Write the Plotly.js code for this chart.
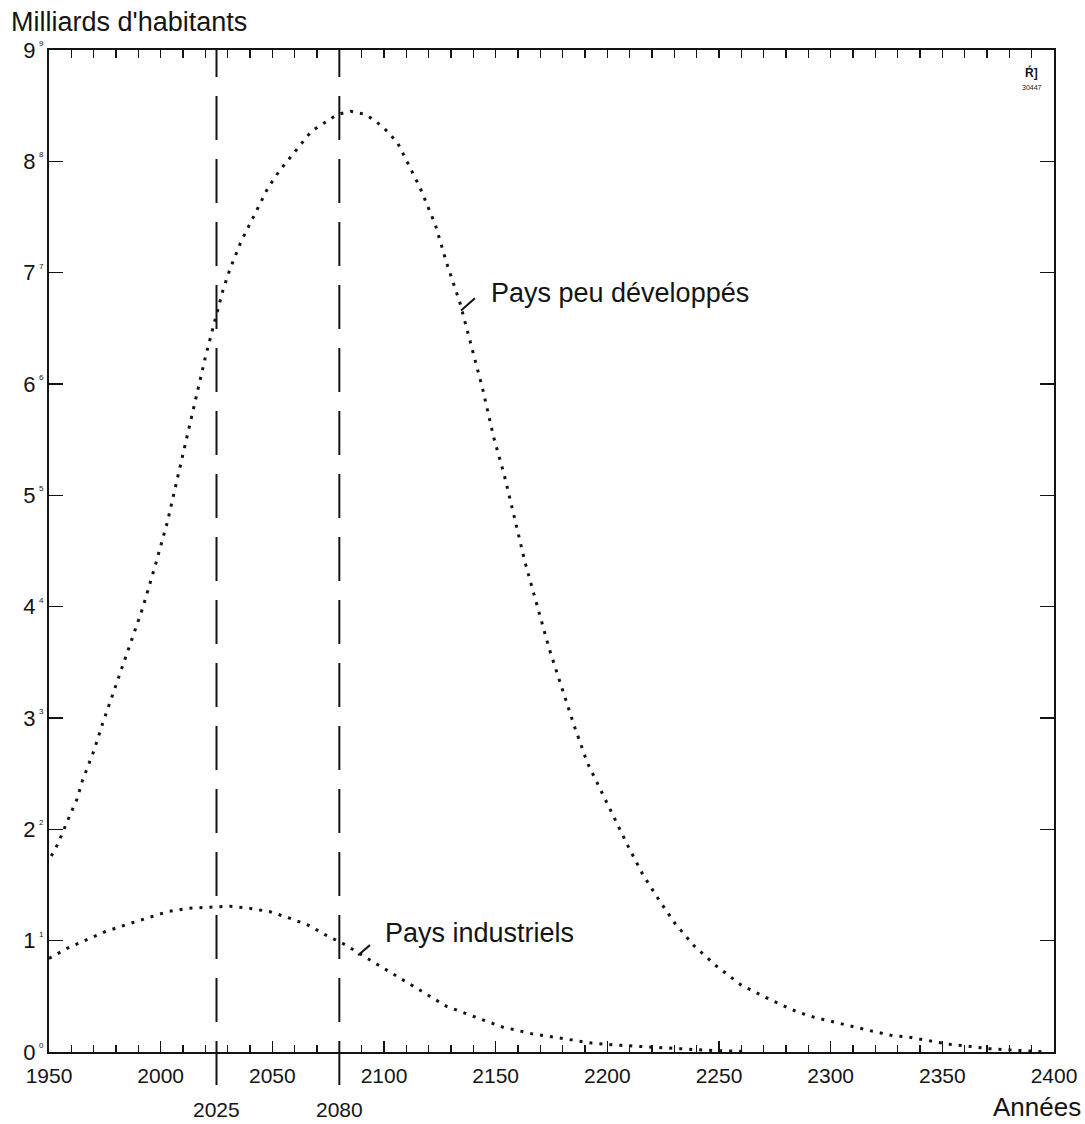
<!DOCTYPE html>
<html>
<head>
<meta charset="utf-8">
<script src="https://cdn.plot.ly/plotly-3.0.1.min.js"></script>
<style>html,body{margin:0;padding:0;background:#fff;}#chart{width:1085px;height:1124px;}</style>
</head>
<body>
<div id="chart"></div>
<script>
// ---- Data ----
const yearsPeuDev = [1951, 1954, 1959, 1962.5, 1965, 1970, 1974, 1978.5, 1983, 1987.5, 1992, 1998, 2003, 2007, 2012, 2016, 2020, 2023.5, 2028, 2031, 2036, 2042, 2048, 2053, 2059, 2067.5, 2079, 2085, 2092, 2099.5, 2106, 2116, 2123, 2128, 2134, 2139.5, 2144, 2149, 2154, 2159, 2163, 2168, 2174, 2179.5, 2185, 2191, 2197, 2203.5, 2209.5, 2216, 2223, 2230.5, 2239, 2249, 2260, 2273, 2285, 2293, 2301, 2310, 2318, 2327, 2336, 2344.5, 2352.5, 2362.5, 2370.5, 2379, 2388, 2397];
const valuesPeuDev = [1.76, 1.87, 2.11, 2.27, 2.44, 2.70, 2.95, 3.21, 3.46, 3.72, 3.99, 4.40, 4.76, 5.11, 5.54, 5.88, 6.24, 6.51, 6.85, 7.03, 7.28, 7.52, 7.76, 7.91, 8.06, 8.27, 8.42, 8.45, 8.42, 8.31, 8.17, 7.77, 7.43, 7.09, 6.73, 6.31, 5.97, 5.53, 5.17, 4.75, 4.41, 4.05, 3.62, 3.28, 2.94, 2.60, 2.35, 2.09, 1.84, 1.59, 1.37, 1.15, 0.95, 0.77, 0.60, 0.47, 0.36, 0.31, 0.27, 0.23, 0.19, 0.15, 0.13, 0.10, 0.07, 0.05, 0.03, 0.02, 0.01, 0.00];

const yearsIndus = [1950, 1958, 1967, 1975, 1984, 1993, 2003, 2012, 2021, 2031, 2040, 2049, 2058, 2066, 2074, 2082, 2091, 2100, 2108, 2116, 2128, 2140, 2153, 2166, 2180, 2193, 2206, 2225, 2245, 2262];
const valuesIndus = [0.84, 0.93, 1.01, 1.08, 1.14, 1.20, 1.26, 1.29, 1.30, 1.31, 1.29, 1.26, 1.20, 1.14, 1.05, 0.97, 0.86, 0.75, 0.65, 0.55, 0.41, 0.32, 0.225, 0.165, 0.12, 0.08, 0.06, 0.035, 0.015, 0.005];

const seriesNames = ["Pays peu développés", "Pays industriels"];
const markerYears = [2025, 2080];
const markerLabels = ["2025", "2080"];
const xTickVals = [1950, 2000, 2050, 2100, 2150, 2200, 2250, 2300, 2350, 2400];
const xTickText = ["1950", "2000", "2050", "2100", "2150", "2200", "2250", "2300", "2350", "2400"];
const yTickVals = [0, 1, 2, 3, 4, 5, 6, 7, 8, 9];
const yTickText = ["0", "1", "2", "3", "4", "5", "6", "7", "8", "9"];
const yAxisTitle = "Milliards d'habitants";
const xAxisTitle = "Années";

// ---- Figure ----
const FONT = "Liberation Sans, Arial, Helvetica, sans-serif";
const INK = "#141414";
const dotted = {color: INK, width: 3, dash: "3px,7px"};
const xRange = [xTickVals[0], xTickVals[xTickVals.length - 1]];

const traces = [
  {x: yearsPeuDev, y: valuesPeuDev, name: seriesNames[0], mode: "lines", line: dotted, hoverinfo: "skip"},
  // second series on the twin (top) x axis, which shares the bottom axis scale
  {x: yearsIndus, y: valuesIndus, name: seriesNames[1], mode: "lines", line: dotted, hoverinfo: "skip", xaxis: "x2", yaxis: "y"}
];

const shapes = markerYears.map(yr => ({
  type: "line", xref: "x", yref: "paper", x0: yr, x1: yr, y0: -0.033, y1: 1,
  line: {color: INK, width: 2, dash: "44px,19px"}
}));
// small pointer strokes linking the labels to the curves
shapes.push({type: "line", xref: "x", yref: "y", x0: 2134.5, y0: 6.66, x1: 2140.7, y1: 6.77, line: {color: INK, width: 2}});
shapes.push({type: "line", xref: "x", yref: "y", x0: 2088.4, y0: 0.87, x1: 2093.7, y1: 0.96, line: {color: INK, width: 2}});

const annotations = [
  {text: yAxisTitle, xref: "paper", yref: "paper", x: -0.04, y: 1.028, xanchor: "left", yanchor: "middle", showarrow: false, font: {family: FONT, size: 27, color: INK}},
  {text: xAxisTitle, xref: "paper", yref: "paper", x: 1.029, y: -0.055, xanchor: "right", yanchor: "middle", showarrow: false, font: {family: FONT, size: 26, color: INK}},
  {text: seriesNames[0], xref: "x", yref: "y", x: 2147, y: 6.82, xanchor: "left", yanchor: "middle", showarrow: false, font: {family: FONT, size: 27, color: INK}},
  {text: seriesNames[1], xref: "x", yref: "y", x: 2099.6, y: 1.07, xanchor: "left", yanchor: "middle", showarrow: false, font: {family: FONT, size: 27, color: INK}},
  {text: "<b>Ŕ]</b>", xref: "paper", yref: "paper", x: 0.978, y: 0.978, xanchor: "center", yanchor: "middle", showarrow: false, font: {family: FONT, size: 12, color: INK}},
  {text: "30447", xref: "paper", yref: "paper", x: 0.978, y: 0.963, xanchor: "center", yanchor: "middle", showarrow: false, font: {family: FONT, size: 7, color: INK}}
];
markerYears.forEach((yr, i) => annotations.push({
  text: markerLabels[i], xref: "x", yref: "paper", x: yr, y: -0.057, xanchor: "center", yanchor: "middle",
  showarrow: false, font: {family: FONT, size: 21, color: INK}
}));
// small duplicate digits printed next to the y axis in the original
yTickVals.forEach((v, i) => annotations.push({
  text: yTickText[i], xref: "paper", yref: "y", x: -0.003, y: v, xanchor: "right", yanchor: "bottom",
  showarrow: false, font: {family: FONT, size: 8, color: INK}
}));

const layout = {
  width: 1085, height: 1124,
  margin: {l: 49, r: 31, t: 50, b: 72, pad: 0},
  paper_bgcolor: "#fff", plot_bgcolor: "#fff",
  showlegend: false,
  font: {family: FONT, color: INK},
  xaxis: {
    range: xRange, tickmode: "array", tickvals: xTickVals, ticktext: xTickText,
    ticks: "inside", ticklen: 11, tickwidth: 1.5, tickcolor: INK,
    minor: {dtick: 10, tick0: 1950, ticks: "inside", ticklen: 7, tickwidth: 1.5, tickcolor: INK, showgrid: false},
    showline: true, linewidth: 2, linecolor: INK, mirror: true,
    showgrid: false, zeroline: false,
    tickfont: {family: FONT, size: 21, color: INK}, ticklabelstandoff: 4
  },
  xaxis2: {
    overlaying: "x", side: "top", anchor: "y", matches: "x",
    tickmode: "linear", tick0: 1950, dtick: 10,
    ticks: "inside", ticklen: 8, tickwidth: 1.6, tickcolor: INK,
    showticklabels: false, showline: true, linewidth: 2, linecolor: INK,
    showgrid: false, zeroline: false
  },
  yaxis: {
    range: [0, 9], tickmode: "array", tickvals: yTickVals, ticktext: yTickText,
    ticks: "inside", ticklen: 14, tickwidth: 1.5, tickcolor: INK,
    showline: true, linewidth: 2, linecolor: INK, mirror: "ticks",
    showgrid: false, zeroline: false,
    tickfont: {family: FONT, size: 22, color: INK}, ticklabelstandoff: 7
  },
  shapes: shapes,
  annotations: annotations
};

Plotly.newPlot("chart", traces, layout, {staticPlot: true, displayModeBar: false});
</script>
</body>
</html>
